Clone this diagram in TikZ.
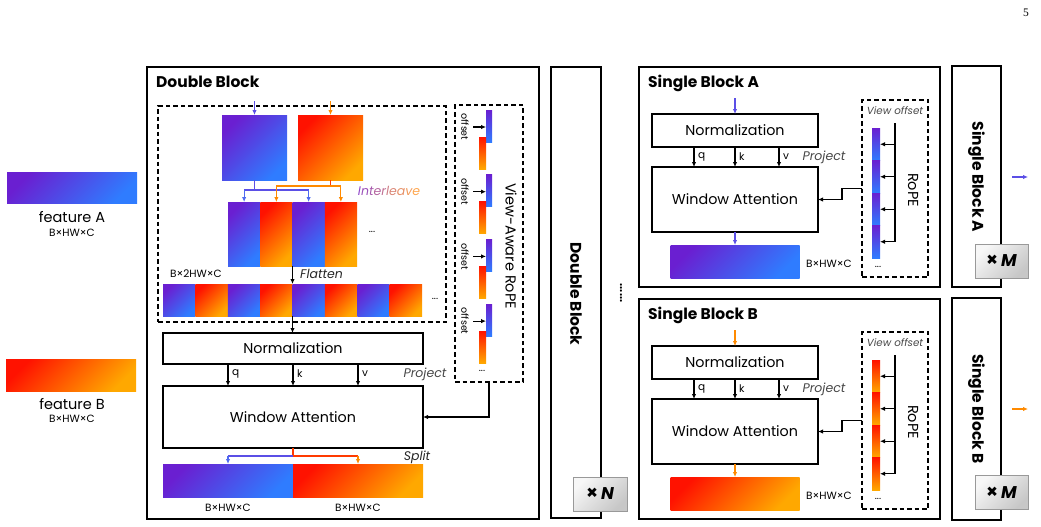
\documentclass[tikz,border=0pt]{standalone}
\usepackage{fontspec}
\setmainfont{Poppins}
\newfontfamily\pgserif{Liberation Serif}
\usetikzlibrary{arrows.meta,calc}
\definecolor{pA}{HTML}{6A1FD1}
\definecolor{bA}{HTML}{2F7CFF}
\definecolor{rB}{HTML}{FF1200}
\definecolor{oB}{HTML}{FFA800}
\definecolor{lnA}{HTML}{5B4FE6}
\definecolor{lnAb}{HTML}{4F6AF0}
\definecolor{lnB}{HTML}{FF8A00}
\definecolor{lnBr}{HTML}{FF3A00}
\definecolor{ilA}{HTML}{8E44C8}
\definecolor{ilB}{HTML}{FFA64D}
\tikzset{
 blkframe/.style={draw, line width=1.2pt, inner sep=0pt, outer sep=0pt},
 opbox/.style={blkframe, font=\fontsize{14.3}{16}\selectfont},
 dbox/.style={draw, line width=1.1pt, dash pattern=on 4.5pt off 3pt, inner sep=0pt, outer sep=0pt},
 sh/.style={inner sep=0pt, outer sep=0pt, draw=none},
 gA/.style={sh, top color=pA, bottom color=bA, shading angle=45},
 gB/.style={sh, top color=rB, bottom color=oB, shading angle=45},
 vA/.style={sh, top color=pA, bottom color=bA},
 vB/.style={sh, top color=rB, bottom color=oB},
 arr/.style={-{Latex[length=5pt,width=4.5pt]}, line width=1.1pt},
 small/.style={font=\fontsize{10.5}{12}\selectfont, inner sep=0pt},
 lett/.style={font=\fontsize{10.5}{12}\selectfont, inner sep=0pt},
 ttl/.style={font=\bfseries\fontsize{15.5}{17}\selectfont, inner sep=0pt},
 note/.style={font=\itshape\fontsize{12.5}{14}\selectfont, inner sep=0pt, text=black!72},
 vnote/.style={font=\fontsize{14.5}{16}\selectfont, inner sep=0pt, rotate=-90},
 mult/.style={draw=black!40, line width=0.8pt, top color=black!3, bottom color=black!22, shading angle=45, minimum width=54pt, minimum height=34pt, inner sep=0pt, font=\bfseries\itshape\fontsize{17}{19}\selectfont},
 dots/.style={font=\fontsize{10}{11}\selectfont, inner sep=0pt},
}
\newcommand\xmark{{\fontsize{19}{19}\selectfont\upshape ×}\,}
\newcommand\sblk[6]{%
\begin{scope}[yshift=-#2pt]
\node[blkframe, minimum width=301pt, minimum height=220pt] (#1f) at (789.5,177) {};
\node[ttl, anchor=west] (#1t) at (648,83) {#3};
\coordinate (#1in) at (735,98);
\node[opbox, minimum width=166pt, minimum height=33pt] (#1n) at (735,130.5) {Normalization};
\draw[arr, #4] (#1in) -- (#1n.north);
\node[opbox, minimum width=166pt, minimum height=65pt] (#1w) at (735,199.5) {Window Attention};
\coordinate (#1q) at ($(#1n.south west)!0.253!(#1n.south east)$);
\coordinate (#1k) at ($(#1n.south west)!0.5!(#1n.south east)$);
\coordinate (#1v) at ($(#1n.south west)!0.765!(#1n.south east)$);
\draw[arr] (#1q) -- (#1q |- #1w.north);
\draw[arr] (#1k) -- (#1k |- #1w.north);
\draw[arr] (#1v) -- (#1v |- #1w.north);
\node[lett, anchor=west] (#1ql) at ($(#1q)+(4,10)$) {q};
\node[lett, anchor=west] (#1kl) at ($(#1k)+(4,10)$) {k};
\node[lett, anchor=west] (#1vl) at ($(#1v)+(4,10)$) {v};
\node[note] (#1p) at (824,157) {Project};
\node[#5, minimum width=129pt, minimum height=33pt] (#1o) at (735,261.5) {};
\draw[arr, #4] (#1w.south) -- (#1o.north);
\node[small] (#1ol) at (829,264) {B×HW×C};
\node[dbox, minimum width=66pt, minimum height=177pt] (#1r) at (895,188.5) {};
\node[note, font=\itshape\fontsize{10.3}{11}\selectfont] (#1rt) at (895,111) {View offset};
\foreach \k in {1,...,4} {\node[#6, minimum width=8pt, minimum height=32.5pt] (#1s\k) at (876,{128+32.5*(\k-0.5)}) {};}
\coordinate (#1vl) at (895,123);
\draw[line width=1.1pt] (#1vl) -- (#1vl |- #1s4.east);
\foreach \k in {1,...,4} {\draw[arr] (#1vl |- #1s\k.east) -- (#1s\k.east);}
\node[vnote] (#1rope) at (913,190) {RoPE};
\node[dots] (#1dd) at (878,267) {...};
\draw[arr] (#1r.west) -- ++(-20,0) |- (#1w.east);
\end{scope}}
\begin{document}
\begin{tikzpicture}[x=1pt,y=-1pt]
\useasboundingbox (0,0) rectangle (1041,527);
\node[font=\pgserif\fontsize{11.5}{12}\selectfont, inner sep=0pt] (pg) at (1026,13) {5};
% features
\node[gA, minimum width=130pt, minimum height=31pt] (fA) at (72,187.5) {};
\node[font=\fontsize{14.5}{16}\selectfont, inner sep=0pt] (fAt) at (72,217) {feature A};
\node[small] (fAs) at (72,233) {B×HW×C};
\node[gB, minimum width=130pt, minimum height=32pt] (fB) at (71,375) {};
\node[font=\fontsize{14.5}{16}\selectfont, inner sep=0pt] (fBt) at (72,404) {feature B};
\node[small] (fBs) at (72,419) {B×HW×C};
% double block
\node[blkframe, minimum width=392pt, minimum height=452pt] (dbf) at (343,293) {};
\node[ttl, anchor=west] (dbt) at (156,82) {Double Block};
\node[dbox, minimum width=288pt, minimum height=216pt] (dil) at (302,214) {};
\node[gA, minimum width=65pt, minimum height=65pt] (sqA) at (254.5,147.5) {};
\node[gB, minimum width=65pt, minimum height=65pt] (sqB) at (330.5,147.5) {};
\coordinate (inA) at (254.5,101);
\coordinate (inB) at (330.5,101);
\draw[arr, lnA] (inA) -- (sqA.north);
\draw[arr, lnB] (inB) -- (sqB.north);
\foreach \i/\s in {1/gA,2/gB,3/gA,4/gB} {\node[\s, minimum width=32.25pt, minimum height=64pt] (c\i) at ({228+32.25*(\i-0.5)},234) {};}
\coordinate (jA) at (254.5,190);
\coordinate (jB) at (330.5,186);
\draw[lnA, line width=1.1pt] (sqA.south) -- (jA);
\draw[lnA, line width=1.1pt] (c1.north |- jA) -- (c3.north |- jA);
\draw[arr, lnAb] (c1.north |- jA) -- (c1.north);
\draw[arr, lnAb] (c3.north |- jA) -- (c3.north);
\draw[lnBr, line width=1.1pt] (sqB.south) -- (jB);
\draw[lnB, line width=1.1pt] (c2.north |- jB) -- (c4.north |- jB);
\draw[arr, lnB] (c2.north |- jB) -- (c2.north);
\draw[arr, lnB] (c4.north |- jB) -- (c4.north);
\node[font=\itshape\fontsize{12.5}{14}\selectfont, inner sep=0pt] (ilv) at (389,191) {\textcolor{ilA}{I}\textcolor{ilB!11!ilA}{n}\textcolor{ilB!22!ilA}{t}\textcolor{ilB!33!ilA}{e}\textcolor{ilB!44!ilA}{r}\textcolor{ilB!56!ilA}{l}\textcolor{ilB!67!ilA}{e}\textcolor{ilB!78!ilA}{a}\textcolor{ilB!89!ilA}{v}\textcolor{ilB}{e}};
\node[dots] (dI) at (372,232) {...};
\foreach \i/\s in {1/gA,2/gB,3/gA,4/gB,5/gA,6/gB,7/gA,8/gB} {\node[\s, minimum width=32.375pt, minimum height=32pt] (r\i) at ({163+32.375*(\i-0.5)},300) {};}
\draw[arr] (c2.south east) -- (r4.north east);
\node[small, anchor=west] (b2) at (170,274) {B×2HW×C};
\node[note, anchor=west, text=black!85] (flt) at (300,274) {Flatten};
\node[dots] (dR) at (435,299) {...};
\node[opbox, minimum width=260pt, minimum height=31pt] (dn) at (293,348.5) {Normalization};
\draw[arr] (r4.south east) -- (r4.south east |- dn.north);
\node[opbox, minimum width=260pt, minimum height=62pt] (dw) at (293,417) {Window Attention};
\coordinate (dq) at ($(dn.south west)!0.25!(dn.south east)$);
\coordinate (dk) at ($(dn.south west)!0.5!(dn.south east)$);
\coordinate (dv) at ($(dn.south west)!0.75!(dn.south east)$);
\draw[arr] (dq) -- (dq |- dw.north);
\draw[arr] (dk) -- (dk |- dw.north);
\draw[arr] (dv) -- (dv |- dw.north);
\node[lett, anchor=west] (dql) at ($(dq)+(4,10)$) {q};
\node[lett, anchor=west] (dkl) at ($(dk)+(4,10)$) {k};
\node[lett, anchor=west] (dvl) at ($(dv)+(4,10)$) {v};
\node[note] (dp) at (425,374) {Project};
\node[gA, minimum width=130pt, minimum height=33pt] (bl) at (228,480.5) {};
\node[gB, minimum width=130pt, minimum height=33pt] (br) at (358,480.5) {};
\coordinate (spl) at ($(dw.south)+(0,8)$);
\draw[lnBr, line width=1.1pt] (dw.south) -- (spl);
\draw[lnA, line width=1.1pt] (spl) -- (spl -| bl.north);
\draw[lnBr, line width=1.1pt] (spl) -- (spl -| br.north);
\draw[arr, lnAb] (spl -| bl.north) -- (bl.north);
\draw[arr, lnB] (spl -| br.north) -- (br.north);
\node[note, text=black!85] (spt) at (417,457) {Split};
\node[small] (bls) at (228,508) {B×HW×C};
\node[small] (brs) at (358,508) {B×HW×C};
% view-aware rope
\node[dbox, minimum width=68pt, minimum height=277pt] (drope) at (489,243.5) {};
\node[vnote] (dropet) at (511,246) {View-Aware RoPE};
\foreach \i in {0,...,3} {
 \pgfmathsetmacro\yy{110+64.7*\i}
 \node[vA, minimum width=6pt, minimum height=32pt] (oa\i) at (489,\yy+16) {};
 \node[vB, minimum width=7pt, minimum height=32pt] (ob\i) at (482.5,\yy+43) {};
 \coordinate (os\i) at (473,\yy+17);
 \draw[arr] (os\i) -- (oa\i.west |- os\i);
 \node[font=\fontsize{9.5}{10}\selectfont, inner sep=0pt, rotate=-90] (ot\i) at (465,\yy+17) {offset};
}
\node[dots] (dRo) at (482,371) {...};
\draw[arr] (drope.south) |- (dw.east);
% stacked double block
\node[blkframe, minimum width=50pt, minimum height=451pt] (dbs) at (576,292.5) {};
\node[ttl, rotate=-90] (dbst) at (576,294) {Double Block};
\node[mult] (xN) at (600,494) {\xmark N};
\node[font=\bfseries\fontsize{11}{12}\selectfont, inner sep=0pt, rotate=-90] (ddots) at (621,293) {......};
% single blocks
\sblk{a}{0}{Single Block A}{lnA}{gA}{vA}
\sblk{b}{232}{Single Block B}{lnB}{gB}{vB}
% right column
\node[blkframe, minimum width=49pt, minimum height=221pt] (sbaS) at (976.5,176.5) {};
\node[ttl, rotate=-90] (sbaT) at (976.5,177) {Single Block A};
\node[mult, minimum width=53pt] (xMA) at (1001.5,261) {\xmark M};
\coordinate (oA1) at (1012,177);
\coordinate (oA2) at (1028,177);
\draw[arr, lnA] (oA1) -- (oA2);
\node[blkframe, minimum width=49pt, minimum height=222pt] (sbbS) at (976.5,409) {};
\node[ttl, rotate=-90] (sbbT) at (976.5,409) {Single Block B};
\node[mult, minimum width=53pt] (xMB) at (1001.5,492.5) {\xmark M};
\coordinate (oB1) at (1012,409);
\coordinate (oB2) at (1028,409);
\draw[arr, lnB] (oB1) -- (oB2);
\end{tikzpicture}
\end{document}
